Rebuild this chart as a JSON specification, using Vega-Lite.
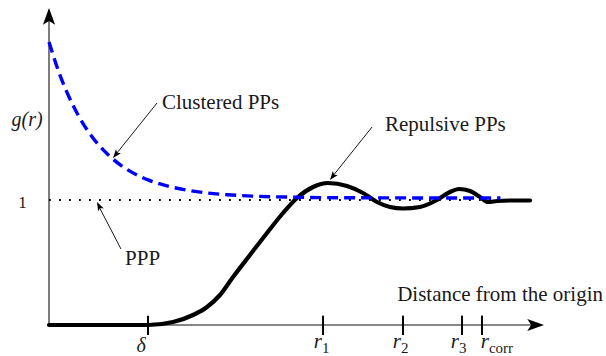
{
  "$schema": "https://vega.github.io/schema/vega-lite/v6.json",
  "width": 495,
  "height": 320,
  "autosize": {"type": "none"},
  "padding": {"left": 49, "top": 5, "right": 62, "bottom": 31},
  "background": "white",
  "config": {"view": {"stroke": null}},
  "datasets": {
    "clustered": [
      {"x": 0, "y": 2.264}, {"x": 0.1, "y": 2.022}, {"x": 0.2, "y": 1.828}, {"x": 0.3, "y": 1.671},
      {"x": 0.4, "y": 1.544}, {"x": 0.5, "y": 1.442}, {"x": 0.6, "y": 1.36}, {"x": 0.7, "y": 1.293},
      {"x": 0.8, "y": 1.239}, {"x": 0.9, "y": 1.196}, {"x": 1.0, "y": 1.161}, {"x": 1.2, "y": 1.111},
      {"x": 1.4, "y": 1.078}, {"x": 1.6, "y": 1.056}, {"x": 1.8, "y": 1.042}, {"x": 2.0, "y": 1.033},
      {"x": 2.5, "y": 1.022}, {"x": 3.0, "y": 1.018}, {"x": 3.5, "y": 1.017}, {"x": 4.0, "y": 1.016},
      {"x": 4.56, "y": 1.016}
    ],
    "repulsive": [
      {"x": 0, "y": 0}, {"x": 1.0, "y": 0}, {"x": 1.253, "y": 0.024}, {"x": 1.455, "y": 0.08},
      {"x": 1.596, "y": 0.144}, {"x": 1.727, "y": 0.24}, {"x": 1.859, "y": 0.384}, {"x": 2.03, "y": 0.56},
      {"x": 2.202, "y": 0.736}, {"x": 2.364, "y": 0.896}, {"x": 2.505, "y": 1.016}, {"x": 2.667, "y": 1.104},
      {"x": 2.818, "y": 1.136}, {"x": 3.01, "y": 1.112}, {"x": 3.172, "y": 1.056}, {"x": 3.313, "y": 0.984},
      {"x": 3.444, "y": 0.944}, {"x": 3.576, "y": 0.932}, {"x": 3.747, "y": 0.944}, {"x": 3.919, "y": 1.0},
      {"x": 4.05, "y": 1.064}, {"x": 4.141, "y": 1.088}, {"x": 4.253, "y": 1.072}, {"x": 4.354, "y": 1.024},
      {"x": 4.434, "y": 0.984}, {"x": 4.525, "y": 0.992}, {"x": 4.657, "y": 0.996}, {"x": 4.859, "y": 0.996}
    ],
    "ppp": [{"x": 0, "y": 1}, {"x": 4.56, "y": 1}],
    "axes": [
      {"x": 0, "y": 0, "x2": 0, "y2": 2.46},
      {"x": 0, "y": 0, "x2": 4.9, "y2": 0}
    ],
    "ticks": [{"x": 1.0}, {"x": 2.768}, {"x": 3.576}, {"x": 4.172}, {"x": 4.374}],
    "rlabels": [
      {"anchor": 2.758, "sub": "1"}, {"anchor": 3.556, "sub": "2"},
      {"anchor": 4.141, "sub": "3"}, {"anchor": 4.444, "sub": "corr"}
    ],
    "arrows": [
      {"x": 1.091, "y": 1.776, "x2": 0.66, "y2": 1.35},
      {"x": 3.263, "y": 1.584, "x2": 2.85, "y2": 1.175},
      {"x": 0.727, "y": 0.608, "x2": 0.49, "y2": 0.97}
    ],
    "notes": [
      {"x": 1.141, "y": 1.732, "label": "Clustered PPs"},
      {"x": 3.394, "y": 1.552, "label": "Repulsive PPs"},
      {"x": 0.768, "y": 0.48, "label": "PPP"}
    ]
  },
  "layer": [
    {
      "data": {"name": "ppp"},
      "mark": {"type": "line", "color": "black", "strokeWidth": 1.8, "strokeDash": [1.8, 8.2]},
      "encoding": {
        "x": {"field": "x", "type": "quantitative", "scale": {"domain": [0, 5], "nice": false, "zero": false}, "axis": null},
        "y": {"field": "y", "type": "quantitative", "scale": {"domain": [0, 2.56], "nice": false, "zero": false}, "axis": null}
      }
    },
    {
      "data": {"name": "axes"},
      "mark": {"type": "rule", "color": "#111", "strokeWidth": 1.1},
      "encoding": {
        "x": {"field": "x", "type": "quantitative", "scale": {"domain": [0, 5], "nice": false, "zero": false}, "axis": null},
        "y": {"field": "y", "type": "quantitative", "scale": {"domain": [0, 2.56], "nice": false, "zero": false}, "axis": null},
        "x2": {"field": "x2"},
        "y2": {"field": "y2"}
      }
    },
    {
      "data": {"values": [{"x": 0, "y": 2.536}]},
      "mark": {"type": "point", "shape": "M0,0L-0.8,2.2L0,1.7L0.8,2.2Z", "filled": true, "opacity": 1, "color": "black", "strokeWidth": 0, "size": 231, "angle": 0},
      "encoding": {
        "x": {"field": "x", "type": "quantitative", "scale": {"domain": [0, 5], "nice": false, "zero": false}, "axis": null},
        "y": {"field": "y", "type": "quantitative", "scale": {"domain": [0, 2.56], "nice": false, "zero": false}, "axis": null}
      }
    },
    {
      "data": {"values": [{"x": 5.0, "y": 0}]},
      "mark": {"type": "point", "shape": "M0,0L-0.8,2.2L0,1.7L0.8,2.2Z", "filled": true, "opacity": 1, "color": "black", "strokeWidth": 0, "size": 231, "angle": 90},
      "encoding": {
        "x": {"field": "x", "type": "quantitative", "scale": {"domain": [0, 5], "nice": false, "zero": false}, "axis": null},
        "y": {"field": "y", "type": "quantitative", "scale": {"domain": [0, 2.56], "nice": false, "zero": false}, "axis": null}
      }
    },
    {
      "data": {"name": "repulsive"},
      "mark": {"type": "line", "color": "black", "strokeWidth": 4.2, "interpolate": "monotone", "strokeCap": "round"},
      "encoding": {
        "x": {"field": "x", "type": "quantitative", "scale": {"domain": [0, 5], "nice": false, "zero": false}, "axis": null},
        "y": {"field": "y", "type": "quantitative", "scale": {"domain": [0, 2.56], "nice": false, "zero": false}, "axis": null}
      }
    },
    {
      "data": {"name": "clustered"},
      "mark": {"type": "line", "color": "#0000ff", "strokeWidth": 3.4, "strokeDash": [11, 6], "interpolate": "monotone"},
      "encoding": {
        "x": {"field": "x", "type": "quantitative", "scale": {"domain": [0, 5], "nice": false, "zero": false}, "axis": null},
        "y": {"field": "y", "type": "quantitative", "scale": {"domain": [0, 2.56], "nice": false, "zero": false}, "axis": null}
      }
    },
    {
      "data": {"name": "ticks"},
      "mark": {"type": "rule", "color": "black", "strokeWidth": 2},
      "encoding": {
        "x": {"field": "x", "type": "quantitative", "scale": {"domain": [0, 5], "nice": false, "zero": false}, "axis": null},
        "y": {"datum": -0.08, "type": "quantitative", "scale": {"domain": [0, 2.56], "nice": false, "zero": false}, "axis": null},
        "y2": {"datum": 0.075}
      }
    },
    {
      "data": {"name": "arrows"},
      "mark": {"type": "rule", "color": "black", "strokeWidth": 0.9},
      "encoding": {
        "x": {"field": "x", "type": "quantitative", "scale": {"domain": [0, 5], "nice": false, "zero": false}, "axis": null},
        "y": {"field": "y", "type": "quantitative", "scale": {"domain": [0, 2.56], "nice": false, "zero": false}, "axis": null},
        "x2": {"field": "x2"},
        "y2": {"field": "y2"}
      }
    },
    {
      "data": {"values": [{"x": 0.646, "y": 1.336}]},
      "mark": {"type": "point", "shape": "M0,0L-0.8,2.2L0,1.7L0.8,2.2Z", "filled": true, "opacity": 1, "color": "black", "strokeWidth": 0, "size": 64, "angle": 219},
      "encoding": {
        "x": {"field": "x", "type": "quantitative", "scale": {"domain": [0, 5], "nice": false, "zero": false}, "axis": null},
        "y": {"field": "y", "type": "quantitative", "scale": {"domain": [0, 2.56], "nice": false, "zero": false}, "axis": null}
      }
    },
    {
      "data": {"values": [{"x": 2.838, "y": 1.16}]},
      "mark": {"type": "point", "shape": "M0,0L-0.8,2.2L0,1.7L0.8,2.2Z", "filled": true, "opacity": 1, "color": "black", "strokeWidth": 0, "size": 64, "angle": 218},
      "encoding": {
        "x": {"field": "x", "type": "quantitative", "scale": {"domain": [0, 5], "nice": false, "zero": false}, "axis": null},
        "y": {"field": "y", "type": "quantitative", "scale": {"domain": [0, 2.56], "nice": false, "zero": false}, "axis": null}
      }
    },
    {
      "data": {"values": [{"x": 0.485, "y": 0.984}]},
      "mark": {"type": "point", "shape": "M0,0L-0.8,2.2L0,1.7L0.8,2.2Z", "filled": true, "opacity": 1, "color": "black", "strokeWidth": 0, "size": 64, "angle": 333},
      "encoding": {
        "x": {"field": "x", "type": "quantitative", "scale": {"domain": [0, 5], "nice": false, "zero": false}, "axis": null},
        "y": {"field": "y", "type": "quantitative", "scale": {"domain": [0, 2.56], "nice": false, "zero": false}, "axis": null}
      }
    },
    {
      "data": {"name": "notes"},
      "mark": {"type": "text", "align": "left", "baseline": "alphabetic", "fontSize": 21, "font": "Liberation Serif", "color": "#1a1a1a"},
      "encoding": {
        "x": {"field": "x", "type": "quantitative", "scale": {"domain": [0, 5], "nice": false, "zero": false}, "axis": null},
        "y": {"field": "y", "type": "quantitative", "scale": {"domain": [0, 2.56], "nice": false, "zero": false}, "axis": null},
        "text": {"field": "label"}
      }
    },
    {
      "data": {"values": [{"x": 5.596, "y": 0.192, "label": "Distance from the origin"}]},
      "mark": {"type": "text", "align": "right", "baseline": "alphabetic", "fontSize": 21, "font": "Liberation Serif", "color": "#1a1a1a"},
      "encoding": {
        "x": {"field": "x", "type": "quantitative", "scale": {"domain": [0, 5], "nice": false, "zero": false}, "axis": null},
        "y": {"field": "y", "type": "quantitative", "scale": {"domain": [0, 2.56], "nice": false, "zero": false}, "axis": null},
        "text": {"field": "label"}
      }
    },
    {
      "data": {"values": [{"x": -0.222, "y": 1.592, "label": "g(r)"}]},
      "mark": {"type": "text", "align": "center", "baseline": "alphabetic", "fontSize": 20, "fontStyle": "italic", "font": "Liberation Serif", "color": "#1a1a1a"},
      "encoding": {
        "x": {"field": "x", "type": "quantitative", "scale": {"domain": [0, 5], "nice": false, "zero": false}, "axis": null},
        "y": {"field": "y", "type": "quantitative", "scale": {"domain": [0, 2.56], "nice": false, "zero": false}, "axis": null},
        "text": {"field": "label"}
      }
    },
    {
      "data": {"values": [{"x": -0.268, "y": 0.936, "label": "1"}]},
      "mark": {"type": "text", "align": "center", "baseline": "alphabetic", "fontSize": 17, "font": "Liberation Serif", "color": "#1a1a1a"},
      "encoding": {
        "x": {"field": "x", "type": "quantitative", "scale": {"domain": [0, 5], "nice": false, "zero": false}, "axis": null},
        "y": {"field": "y", "type": "quantitative", "scale": {"domain": [0, 2.56], "nice": false, "zero": false}, "axis": null},
        "text": {"field": "label"}
      }
    },
    {
      "data": {"values": [{"x": 0.93, "y": -0.212, "label": "δ"}]},
      "mark": {"type": "text", "align": "center", "baseline": "alphabetic", "fontSize": 20, "fontStyle": "italic", "font": "Liberation Serif", "color": "#1a1a1a"},
      "encoding": {
        "x": {"field": "x", "type": "quantitative", "scale": {"domain": [0, 5], "nice": false, "zero": false}, "axis": null},
        "y": {"field": "y", "type": "quantitative", "scale": {"domain": [0, 2.56], "nice": false, "zero": false}, "axis": null},
        "text": {"field": "label"}
      }
    },
    {
      "data": {"name": "rlabels"},
      "mark": {"type": "text", "align": "right", "baseline": "alphabetic", "fontSize": 21, "fontStyle": "italic", "font": "Liberation Serif", "color": "#1a1a1a", "text": "r"},
      "encoding": {
        "x": {"field": "anchor", "type": "quantitative", "scale": {"domain": [0, 5], "nice": false, "zero": false}, "axis": null},
        "y": {"datum": -0.184, "type": "quantitative", "scale": {"domain": [0, 2.56], "nice": false, "zero": false}, "axis": null}
      }
    },
    {
      "data": {"name": "rlabels"},
      "mark": {"type": "text", "align": "left", "baseline": "alphabetic", "fontSize": 15, "font": "Liberation Serif", "color": "#1a1a1a"},
      "encoding": {
        "x": {"field": "anchor", "type": "quantitative", "scale": {"domain": [0, 5], "nice": false, "zero": false}, "axis": null},
        "y": {"datum": -0.224, "type": "quantitative", "scale": {"domain": [0, 2.56], "nice": false, "zero": false}, "axis": null},
        "text": {"field": "sub"}
      }
    }
  ]
}
